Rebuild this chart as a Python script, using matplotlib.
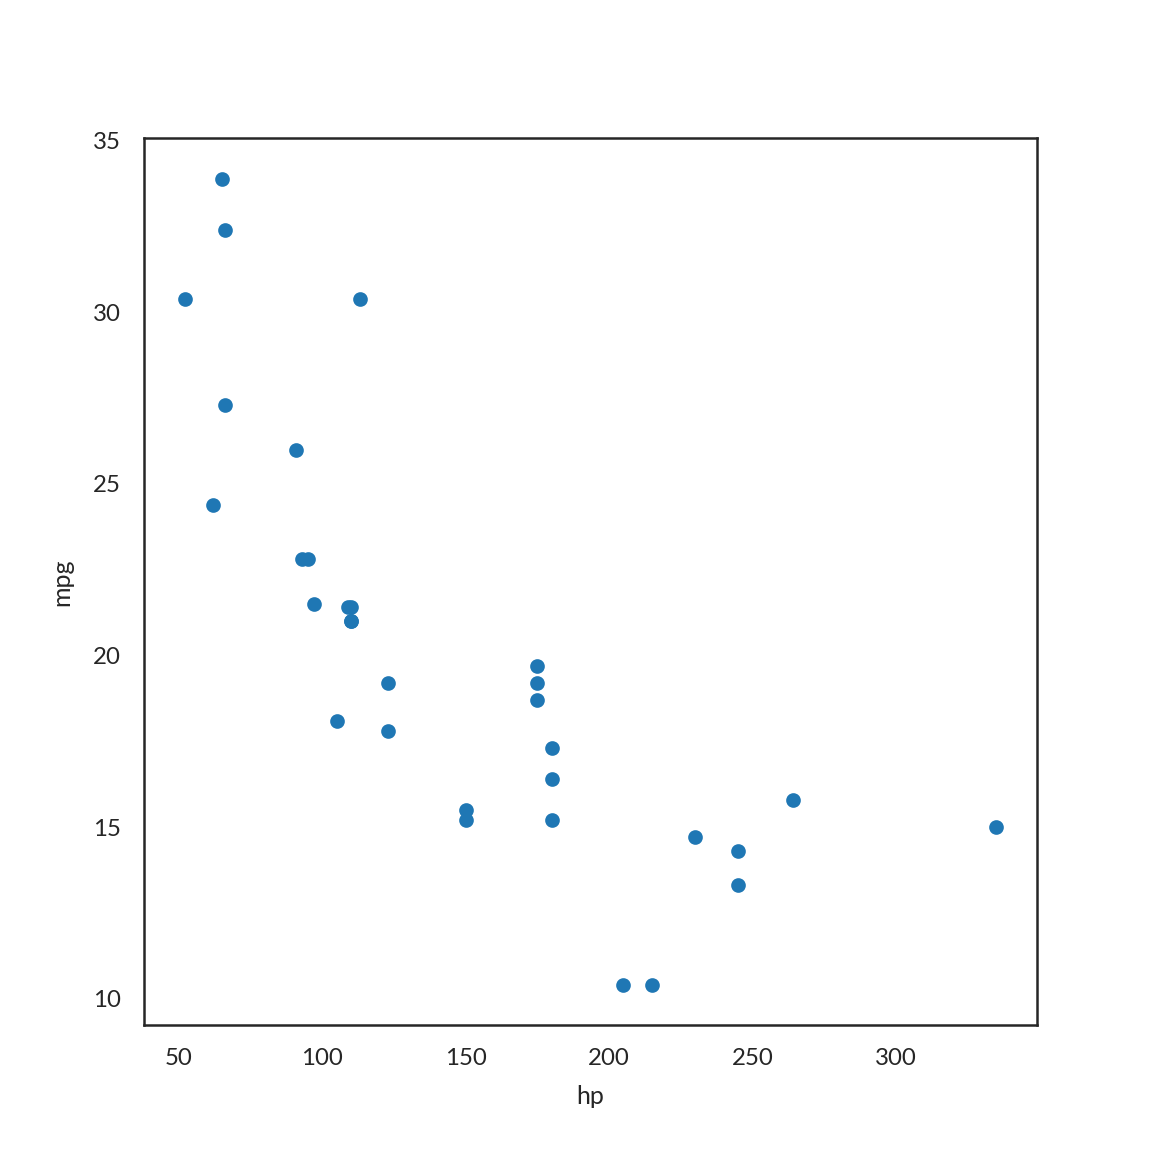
import matplotlib
matplotlib.use("Agg")
import matplotlib.pyplot as plt
import seaborn as sns

# mtcars: horsepower vs miles per gallon
hp = [110, 110, 93, 110, 175, 105, 245, 62, 95, 123, 123, 180, 180, 180, 205, 215,
      230, 66, 52, 65, 97, 150, 150, 245, 175, 66, 91, 113, 264, 175, 335, 109]
mpg = [21.0, 21.0, 22.8, 21.4, 18.7, 18.1, 14.3, 24.4, 22.8, 19.2, 17.8, 16.4, 17.3, 15.2, 10.4, 10.4,
       14.7, 32.4, 30.4, 33.9, 21.5, 15.5, 15.2, 13.3, 19.2, 27.3, 26.0, 30.4, 15.8, 19.7, 15.0, 21.4]

sns.set_style("white")
plt.rcParams['font.family'] = ['Lato', 'DejaVu Sans']

fig, ax = plt.subplots(figsize=(8, 8), dpi=144)
ax.scatter(hp, mpg, s=40, color="#1f77b4")
ax.set_xlabel("hp", fontsize=12.5, labelpad=8)
ax.set_ylabel("mpg", fontsize=12.5, labelpad=10)
ax.tick_params(labelsize=12, pad=8)
ax.set_xticks([50, 100, 150, 200, 250, 300])
ax.set_yticks([10, 15, 20, 25, 30, 35])
for sp in ax.spines.values():
    sp.set_color("#262626")
    sp.set_linewidth(1.25)

fig.savefig("out.png")
